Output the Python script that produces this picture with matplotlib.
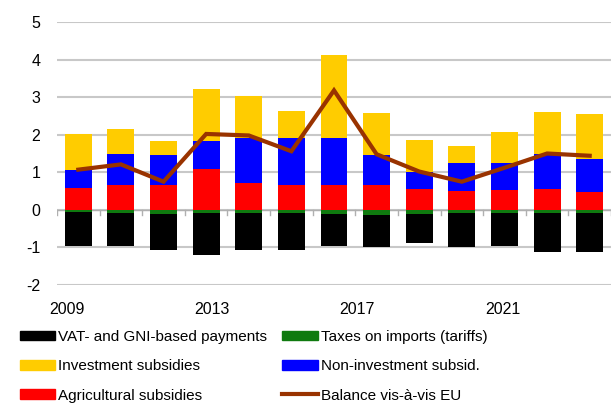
import matplotlib

matplotlib.use("Agg")
import matplotlib.pyplot as plt
import numpy as np
from matplotlib.patches import Patch
from matplotlib.lines import Line2D

plt.rcParams["font.family"] = ["Liberation Sans", "DejaVu Sans"]
plt.rcParams["axes.unicode_minus"] = False

years = list(range(2009, 2022))
year_labels = ["2009", "2013", "2017", "2021"]

# positive side (stacked from zero upwards)
agricultural = [0.58, 0.65, 0.65, 1.09, 0.72, 0.67, 0.65, 0.65, 0.56, 0.51, 0.54, 0.56, 0.47]
non_investment = [0.48, 0.84, 0.82, 0.74, 1.18, 1.24, 1.26, 0.81, 0.44, 0.74, 0.70, 0.92, 0.88]
investment = [0.96, 0.66, 0.35, 1.39, 1.12, 0.72, 2.21, 1.11, 0.87, 0.45, 0.84, 1.13, 1.19]
# negative side (stacked from zero downwards)
tariffs = [-0.07, -0.08, -0.11, -0.09, -0.08, -0.09, -0.11, -0.13, -0.11, -0.09, -0.09, -0.08, -0.09]
vat_gni = [-0.88, -0.88, -0.95, -1.12, -0.98, -0.97, -0.84, -0.85, -0.76, -0.89, -0.86, -1.04, -1.03]
balance = [1.07, 1.21, 0.75, 2.02, 1.98, 1.56, 3.18, 1.48, 1.02, 0.75, 1.12, 1.50, 1.44]

c_black = "#000000"
c_green = "#0f7a0f"
c_yellow = "#ffcc00"
c_blue = "#0000ff"
c_red = "#ff0000"
c_line = "#993300"

fig = plt.figure(figsize=(6.11, 4.03), dpi=100)
ax = fig.add_axes([57 / 611, 118 / 403, 554 / 611, 263 / 403])

x = np.arange(len(years))
w = 0.63
agri = np.array(agricultural)
noninv = np.array(non_investment)
inv = np.array(investment)
tar = np.array(tariffs)
vat = np.array(vat_gni)

ax.bar(x, agri, w, color=c_red, zorder=3)
ax.bar(x, noninv, w, bottom=agri, color=c_blue, zorder=3)
ax.bar(x, inv, w, bottom=agri + noninv, color=c_yellow, zorder=3)
ax.bar(x, tar, w, color=c_green, zorder=3)
ax.bar(x, vat, w, bottom=tar, color=c_black, zorder=3)
ax.plot(x, balance, color=c_line, lw=3, zorder=4, solid_joinstyle="miter")

ax.set_ylim(-2, 5)
ax.set_xlim(-0.5, len(years) - 0.5)
ax.set_yticks(range(-2, 6))
ax.yaxis.grid(True, color="#c8c8c8", lw=1.5, zorder=0)
ax.set_axisbelow(True)
ax.tick_params(axis="y", length=0, pad=12, labelsize=11.5)

for s in ax.spines.values():
    s.set_visible(False)
ax.axhline(0, color="#b0b0b0", lw=1, zorder=2)

# year labels sit left of the bar centres in the original chart
ax.set_xticks([-0.26, 3.14, 6.54, 9.97])
ax.set_xticklabels(year_labels)
ax.tick_params(axis="x", length=0, pad=12, labelsize=11.5)
for xb in np.arange(-0.5, len(years), 1.0):
    ax.plot([xb, xb], [0, -0.13], color="#b0b0b0", lw=1, zorder=2)

handles = [
    Patch(color=c_black),
    Patch(color=c_yellow),
    Patch(color=c_red),
    Patch(color=c_green),
    Patch(color=c_blue),
    Line2D([], [], color=c_line, lw=3),
]
labels = [
    "VAT- and GNI-based payments",
    "Investment subsidies",
    "Agricultural subsidies",
    "Taxes on imports (tariffs)",
    "Non-investment subsid.",
    "Balance vis-à-vis EU",
]
fig.legend(handles, labels, loc="upper left", bbox_to_anchor=(20 / 611, 1 - 330 / 403),
           ncol=2, frameon=False, fontsize=11, borderpad=0, borderaxespad=0,
           handlelength=2.3, handleheight=0.6, handletextpad=0.2,
           columnspacing=1.0, labelspacing=1.0)

fig.savefig("out.png", dpi=100)
